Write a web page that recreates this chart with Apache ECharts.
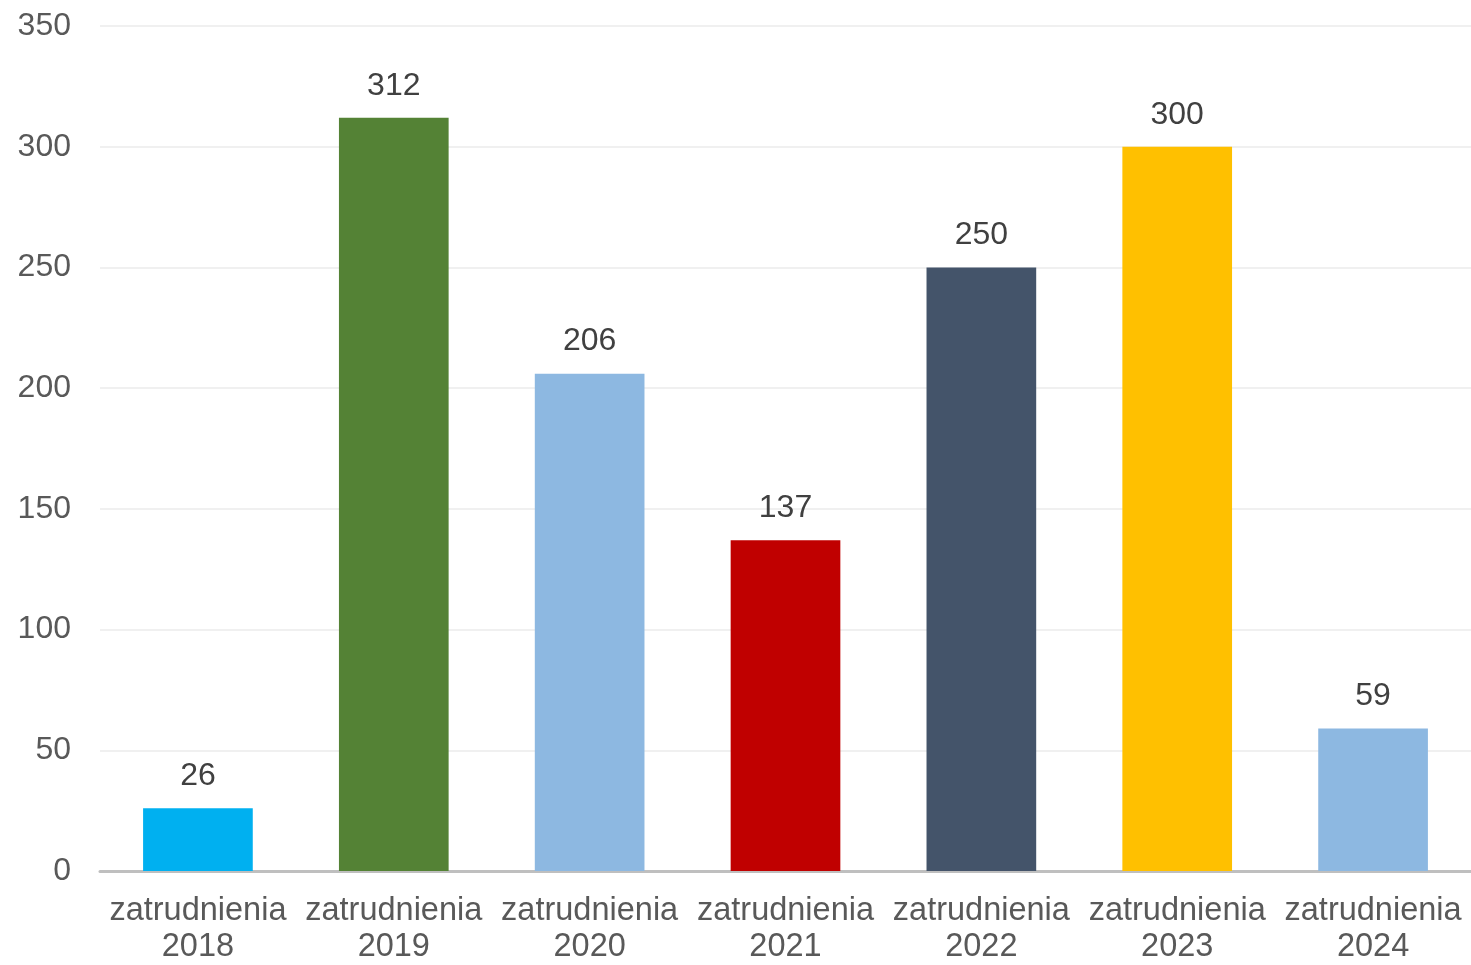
<!DOCTYPE html>
<html><head><meta charset="utf-8">
<script src="https://cdn.jsdelivr.net/npm/echarts@6/dist/echarts.min.js"></script>
<style>html,body{margin:0;padding:0;background:#fff}#c{width:1471px;height:965px}</style>
</head><body><div id="c"></div>
<script>
const categories = ['zatrudnienia\n2018','zatrudnienia\n2019','zatrudnienia\n2020','zatrudnienia\n2021','zatrudnienia\n2022','zatrudnienia\n2023','zatrudnienia\n2024'];
const values = [26, 312, 206, 137, 250, 300, 59];
const barColors = ['#00B0F0','#548235','#8DB8E1','#C00000','#44546A','#FFC000','#8DB8E1'];

const chart = echarts.init(document.getElementById('c'));
chart.setOption({
  animation: false,
  grid: {left: 100, right: -3, top: 26, bottom: 88, containLabel: false},
  xAxis: {
    type: 'category', data: categories,
    axisLine: {lineStyle: {color: '#BFBFBF', width: 3}},
    axisTick: {show: false},
    axisLabel: {color: '#595959', fontSize: 32.5, fontFamily: 'Liberation Sans, Arial, sans-serif', lineHeight: 36, margin: 22, interval: 0}
  },
  yAxis: {
    type: 'value', min: 0, max: 350, interval: 50,
    axisLine: {show: false}, axisTick: {show: false},
    splitLine: {lineStyle: {color: '#F0F0F0', width: 2}},
    axisLabel: {color: '#595959', fontSize: 32, fontFamily: 'Liberation Sans, Arial, sans-serif', margin: 29}
  },
  series: [{
    type: 'bar', barWidth: '56%',
    data: values.map((v, i) => ({value: v, itemStyle: {color: barColors[i]}})),
    label: {show: true, position: 'top', distance: 16, color: '#404040', fontSize: 32, fontFamily: 'Liberation Sans, Arial, sans-serif'}
  }]
});
</script></body></html>
